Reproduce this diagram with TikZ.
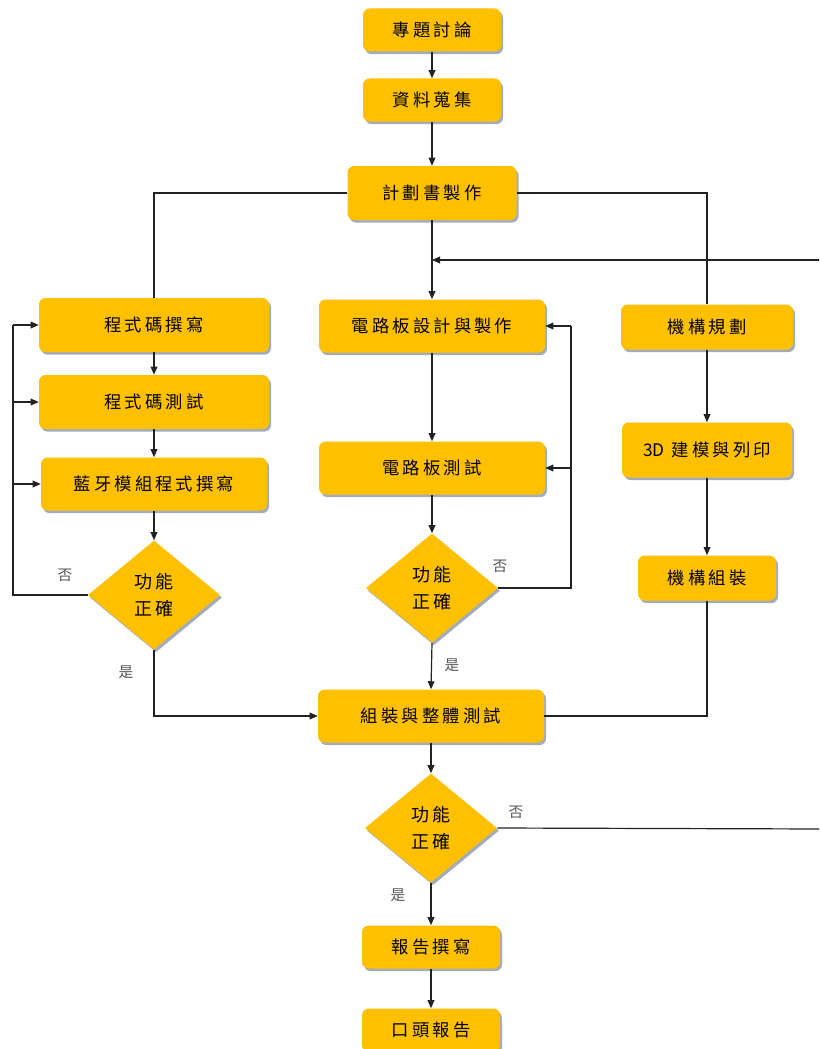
\documentclass[tikz,border=0pt]{standalone}
\usepackage{fontspec}
\setmainfont{Noto Sans CJK TC}
\newfontfamily\cjkbox{Noto Sans CJK TC}[LetterSpace=18]
\newfontfamily\cjkplain{Noto Sans CJK TC}
\usetikzlibrary{arrows.meta,shapes.geometric,shadows}
\definecolor{boxfill}{HTML}{FFC000}
\definecolor{shadowc}{HTML}{8E98A8}
\definecolor{linec}{HTML}{222222}
\definecolor{labc}{HTML}{555555}
\begin{document}
\begin{tikzpicture}[x=0.75pt,y=-0.75pt,
  shad/.style={drop shadow={shadow xshift=1.5pt,shadow yshift=-2pt,fill=shadowc,opacity=0.8}},
  box/.style={rectangle,rounded corners=5pt,fill=boxfill,shad,inner sep=0pt,
    text=black,font=\cjkbox\fontsize{13}{15}\selectfont},
  dia/.style={diamond,fill=boxfill,shad,inner sep=0pt,minimum width=99pt,minimum height=81.75pt,
    align=center,text=black,font=\cjkbox\fontsize{13.5}{20}\selectfont},
  conn/.style={draw=linec,line width=0.9pt},
  arr/.style={conn,-{Triangle[length=6pt,width=5pt]}},
  lab/.style={text=labc,font=\cjkplain\fontsize{11}{13}\selectfont,inner sep=0pt}]
\clip (0,0) rectangle (819,1049);
\fill[white] (0,0) rectangle (819,1049);

% top column
\node[box,minimum width=103.5pt,minimum height=32.25pt] (A) at (432,30) {專題討論};
\node[box,minimum width=103.5pt,minimum height=32.25pt] (B) at (432,100) {資料蒐集};
\node[box,minimum width=126.75pt,minimum height=40.5pt] (C) at (432,193) {計劃書製作};

% left column
\node[box,minimum width=172.5pt,minimum height=40.5pt] (L1) at (154,325) {程式碼撰寫};
\node[box,minimum width=172.5pt,minimum height=40.5pt] (L2) at (154,402) {程式碼測試};
\node[box,minimum width=169.5pt,minimum height=39.75pt] (L3) at (154,484) {藍牙模組程式撰寫};
\node[dia] (D1) at (154,595) {功能\\正確};

% middle column
\node[box,minimum width=169.5pt,minimum height=39.75pt] (M1) at (432,326) {電路板設計與製作};
\node[box,minimum width=169.5pt,minimum height=39.75pt] (M2) at (432,468) {電路板測試};
\node[dia] (D2) at (432,588) {功能\\正確};

% right column
\node[box,minimum width=129pt,minimum height=33.75pt] (R1) at (707,327) {機構規劃};
\node[box,minimum width=127.5pt,minimum height=41.25pt] (R2) at (707,450) {{\cjkplain 3D} 建模與列印};
\node[box,minimum width=103.5pt,minimum height=33.75pt] (R3) at (707,578) {機構組裝};

% bottom
\node[box,minimum width=169.5pt,minimum height=39.75pt] (AS) at (431,716) {組裝與整體測試};
\node[dia] (D3) at (431,828) {功能\\正確};
\node[box,minimum width=103.5pt,minimum height=32.25pt] (RP) at (431,947) {報告撰寫};
\node[box,minimum width=103.5pt,minimum height=32.25pt] (OR) at (431,1030) {口頭報告};

% helper coordinates
\coordinate (lx) at (13,0);
\coordinate (rx) at (571,0);
\coordinate (fbstart) at (825,260);
\coordinate (fbin) at (432,260);
\coordinate (d3out) at (825,829);

% connectors
\draw[arr] (A) -- (B);
\draw[arr] (B) -- (C);
\draw[conn] (C.west) -| (L1.north);
\draw[conn] (C.east) -| (R1.north);
\draw[arr] (C) -- (M1);
\draw[arr] (fbstart) -- (fbin);

\draw[arr] (L1) -- (L2);
\draw[arr] (L2) -- (L3);
\draw[arr] (L3) -- (D1);
\draw[conn] (D1.west) -| (lx |- L1.west);
\draw[arr] (lx |- L1.west) -- (L1.west);
\draw[arr] (lx |- L2.west) -- (L2.west);
\draw[arr] (lx |- L3.west) -- (L3.west);
\draw[arr] (D1.south) |- (AS.west);

\draw[arr] (M1) -- (M2);
\draw[arr] (M2) -- (D2);
\draw[conn] (D2.east) -| (rx |- M1.east);
\draw[arr] (rx |- M1.east) -- (M1.east);
\draw[arr] (rx |- M2.east) -- (M2.east);
\draw[arr] (D2.south) -- (AS.north);

\draw[arr] (R1) -- (R2);
\draw[arr] (R2) -- (R3);
\draw[conn] (R3.south) |- (AS.east);

\draw[arr] (AS) -- (D3);
\draw[conn] (D3.east) -- (d3out);
\draw[arr] (D3) -- (RP);
\draw[arr] (RP) -- (OR);

% labels
\node[lab] (n1) at (65,575) {否};
\node[lab] (y1) at (126,672) {是};
\node[lab] (n2) at (500,566) {否};
\node[lab] (y2) at (452,665) {是};
\node[lab] (n3) at (516,812) {否};
\node[lab] (y3) at (398,895) {是};
\end{tikzpicture}
\end{document}
